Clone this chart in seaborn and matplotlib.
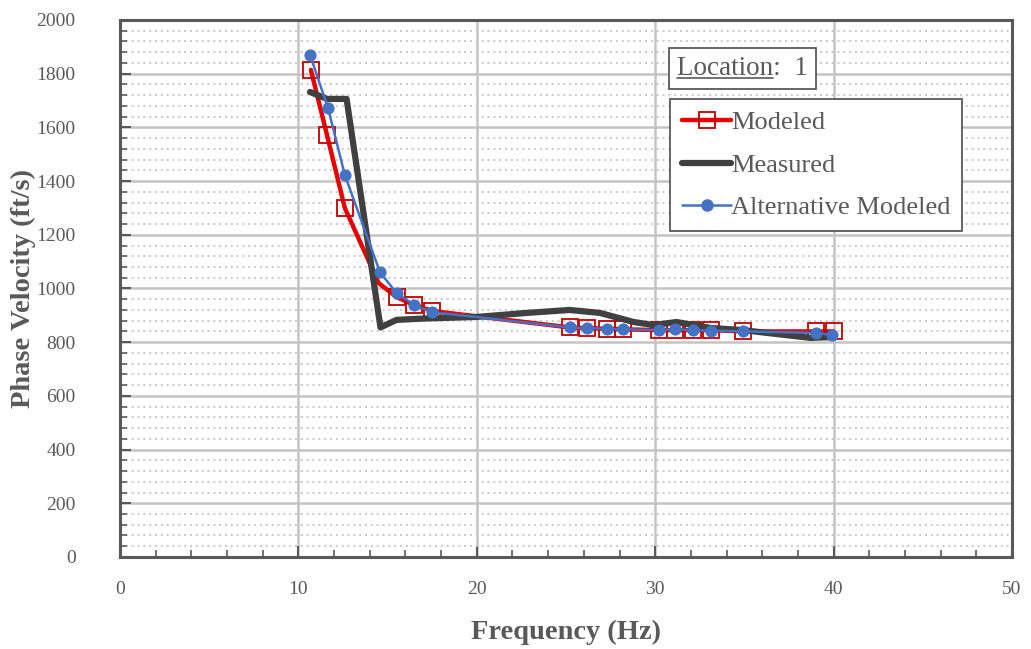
import matplotlib
matplotlib.use('Agg')
import matplotlib.pyplot as plt
from matplotlib.lines import Line2D
from matplotlib.ticker import MultipleLocator
import seaborn as sns

# values
mod_freq = [10.7, 11.6, 12.6, 14.5, 15.5, 16.5, 17.5, 25.2, 26.2, 27.3, 28.2,
            30.2, 31.1, 32.1, 33.1, 34.9, 39.0, 40.0]
mod_vel = [1814, 1572, 1300, 1020, 968, 938, 916, 855, 852, 850, 848,
           845, 845, 845, 845, 840, 840, 840]

meas_freq = [10.65, 11.6, 12.7, 14.6, 15.5, 17.0, 20.0, 22.8, 25.2, 26.9,
             28.8, 29.9, 31.2, 33.1, 34.9, 38.7, 39.9]
meas_vel = [1732, 1706, 1706, 855, 883, 888, 894, 909, 920, 909,
            875, 864, 875, 853, 845, 816, 819]

alt_freq = [10.65, 11.66, 12.6, 14.57, 15.5, 16.5, 17.5, 25.2, 26.2, 27.3, 28.2,
            30.2, 31.1, 32.1, 33.1, 34.9, 39.0, 39.9]
alt_vel = [1870, 1672, 1423, 1061, 983, 938, 912, 855, 852, 850, 848,
           845, 848, 845, 843, 840, 835, 827]

sns.set_style('white')
plt.rcParams['font.family'] = ['Liberation Serif', 'DejaVu Serif']

grey = '#595959'
fig = plt.figure(figsize=(10.31, 6.49), dpi=100)
ax = fig.add_axes([0.1164, 0.1418, 0.8652, 0.8274])

# minor dotted grid, major solid grid
ax.yaxis.set_minor_locator(MultipleLocator(40))
ax.xaxis.set_minor_locator(MultipleLocator(2))
ax.grid(which='minor', axis='y', color='#c8c8c8', linestyle=(0, (1, 2)), linewidth=1.4)
ax.grid(which='major', axis='both', color='#c4c4c4', linestyle='-', linewidth=1.8)
ax.set_axisbelow(True)

sns.lineplot(x=mod_freq, y=mod_vel, ax=ax, sort=False, estimator=None,
             color='#e60000', linewidth=3.2, marker='s', markersize=11,
             markerfacecolor='none', markeredgecolor='#c00000', markeredgewidth=1.3,
             markevery=[0, 1, 2, 4, 5, 6, 7, 8, 9, 10, 11, 12, 13, 14, 15, 16, 17])
sns.lineplot(x=meas_freq, y=meas_vel, ax=ax, sort=False, estimator=None,
             color='#404040', linewidth=4.5)
sns.lineplot(x=alt_freq, y=alt_vel, ax=ax, sort=False, estimator=None,
             color='#4472c4', linewidth=1.8, marker='o', markersize=8,
             markeredgecolor='#4472c4', markerfacecolor='#4472c4')

ax.set_xlim(0, 50)
ax.set_ylim(0, 2000)
ax.xaxis.set_major_locator(MultipleLocator(10))
ax.yaxis.set_major_locator(MultipleLocator(200))
ax.tick_params(which='both', direction='in', colors=grey, labelsize=14,
               bottom=True, left=True)
ax.tick_params(which='major', length=8, width=1.5)
ax.tick_params(which='minor', length=5, width=1.2)
ax.tick_params(axis='x', which='major', pad=17)
ax.tick_params(axis='y', which='major', pad=32)
for s in ax.spines.values():
    s.set_color(grey)
    s.set_linewidth(2.2)

ax.set_xlabel('Frequency (Hz)', fontsize=20.5, fontweight='bold', color=grey, labelpad=16)
ax.set_ylabel('Phase Velocity (ft/s)', fontsize=20.5, fontweight='bold', color=grey, labelpad=0)

handles = [
    Line2D([], [], color='#e60000', linewidth=3.2, marker='s', markersize=11,
           markerfacecolor='none', markeredgecolor='#c00000', markeredgewidth=1.3),
    Line2D([], [], color='#404040', linewidth=4.5),
    Line2D([], [], color='#4472c4', linewidth=1.8, marker='o', markersize=8),
]
leg = ax.legend(handles, ['Modeled', 'Measured', 'Alternative Modeled'],
                loc='upper left', bbox_to_anchor=(0.617, 0.853), fontsize=19,
                frameon=True, fancybox=False, framealpha=1, edgecolor=grey,
                handlelength=1.85, handletextpad=0.0, labelspacing=0.72,
                borderpad=0.45, borderaxespad=0)
leg.get_frame().set_linewidth(1.3)
for t in leg.get_texts():
    t.set_color(grey)

# location box with underlined word
loc_x, loc_y = 0.624, 0.909
ax.text(loc_x, loc_y, 'Location:  1', transform=ax.transAxes, fontsize=19.5,
        color=grey, va='center', ha='left',
        bbox=dict(boxstyle='square,pad=0.3', facecolor='white', edgecolor=grey, linewidth=1.3))
probe = ax.text(loc_x, loc_y, 'Location', transform=ax.transAxes, fontsize=19.5,
                color='none', va='center', ha='left')
fig.canvas.draw()
bb = probe.get_window_extent(renderer=fig.canvas.get_renderer())
probe.remove()
inv = fig.transFigure.inverted()
(x0, y0), (x1, _) = inv.transform([(bb.x0, bb.y0 + 3), (bb.x1, bb.y0 + 3)])
fig.add_artist(Line2D([x0, x1], [y0, y0], color=grey, linewidth=1.2, transform=fig.transFigure))

fig.savefig('out.png', dpi=100)
